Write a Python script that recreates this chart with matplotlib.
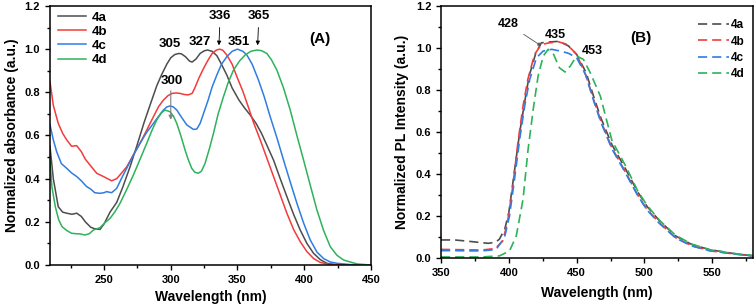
import matplotlib
matplotlib.use('Agg')
import matplotlib.pyplot as plt
from matplotlib.ticker import MultipleLocator

plt.rcParams['font.family'] = ['Liberation Sans', 'DejaVu Sans']
plt.rcParams['font.weight'] = 'bold'

# ---- data: (A) absorbance ----
abs_4a_x = [209.5, 212, 215.7, 219, 222, 226, 229.5, 233, 236, 240, 243, 247, 250, 254.5, 259.5,
            264, 269.5, 275, 280, 285, 289.5, 293, 297, 300, 303, 306, 308, 311, 314, 316,
            319, 322, 325, 327.5, 331, 334.5, 338, 342, 346, 351, 355, 359.5, 364, 368, 372,
            377, 382, 387, 392, 397, 402, 407, 412, 417, 422, 430, 440, 450]
abs_4a_y = [0.55, 0.40, 0.27, 0.245, 0.24, 0.235, 0.24, 0.225, 0.20, 0.175, 0.168, 0.165, 0.19, 0.245, 0.29,
            0.36, 0.455, 0.56, 0.66, 0.75, 0.83, 0.88, 0.93, 0.96, 0.975, 0.98, 0.978, 0.965, 0.945, 0.94,
            0.955, 0.98, 0.992, 0.996, 0.99, 0.97, 0.93, 0.88, 0.82, 0.765, 0.73, 0.695, 0.655, 0.61, 0.555,
            0.486, 0.40, 0.317, 0.235, 0.162, 0.10, 0.054, 0.025, 0.008, 0.003, 0.0, 0.0, 0.0]

abs_4b_x = [209.5, 212, 215.7, 219, 222, 225.7, 229.5, 233, 236, 239.5, 244.5, 249.5, 255.7, 259.5,
            263, 267, 272, 277, 282, 287, 291, 294.5, 298, 301, 304, 307, 310, 313, 316, 318,
            321, 324.5, 328, 331, 334, 336.5, 339, 342, 346, 349.5, 354, 358, 362, 367, 372,
            377, 382, 387, 392, 397, 402, 407, 412, 417, 425, 435, 450]
abs_4b_y = [0.85, 0.74, 0.656, 0.61, 0.58, 0.55, 0.553, 0.525, 0.49, 0.463, 0.425, 0.41, 0.39, 0.40,
            0.425, 0.455, 0.51, 0.564, 0.625, 0.687, 0.735, 0.764, 0.785, 0.795, 0.797, 0.795, 0.79, 0.788, 0.795, 0.82,
            0.865, 0.91, 0.95, 0.98, 0.995, 1.0, 0.995, 0.973, 0.93, 0.873, 0.805, 0.734, 0.66, 0.58, 0.495,
            0.41, 0.325, 0.24, 0.165, 0.108, 0.062, 0.03, 0.012, 0.005, 0.0, 0.0, 0.0]

abs_4c_x = [209.5, 212, 214.5, 218, 222, 226, 229.5, 233, 237, 240, 243, 247, 250, 252, 254, 255.7, 259.5,
            263, 267, 272, 277, 282, 287, 291, 294.5, 297, 299.5, 302, 304.5, 308, 312, 317,
            319.5, 322, 325, 328, 331, 334.5, 338, 342, 346, 350, 354, 357, 361, 365.7, 370,
            374.5, 379.5, 384.5, 389.5, 394.5, 399.5, 404.5, 409.5, 414.5, 419.5, 424.5, 434.5, 450]
abs_4c_y = [0.65, 0.58, 0.525, 0.47, 0.448, 0.425, 0.41, 0.39, 0.363, 0.352, 0.335, 0.332, 0.335, 0.34, 0.337, 0.335, 0.355,
            0.40, 0.448, 0.51, 0.564, 0.615, 0.656, 0.69, 0.718, 0.732, 0.737, 0.732, 0.718, 0.685, 0.649, 0.628,
            0.63, 0.656, 0.71, 0.764, 0.825, 0.88, 0.93, 0.965, 0.99, 1.0, 0.99, 0.973, 0.93, 0.857, 0.78,
            0.687, 0.59, 0.486, 0.385, 0.286, 0.195, 0.116, 0.06, 0.03, 0.014, 0.008, 0.002, 0.0]

abs_4d_x = [209.5, 211, 213.5, 216, 218.5, 222, 225.7, 229, 232, 235.7, 239, 242, 247, 250.5, 254.5,
            258, 262, 267, 272, 277, 282, 286, 289.5, 293, 295.7, 299.5, 302, 304.5, 307.5, 310.7, 313,
            315.7, 318, 320.7, 323, 325.7, 329, 332, 335.5, 339.5, 343, 347, 351.5, 355.7, 360, 364.5,
            368, 372, 375.5, 379.5, 384.5, 389.5, 394.5, 399.5, 404.5, 409.5, 414.5, 419.5, 424.5, 429.5, 439.5, 450]
abs_4d_y = [0.486, 0.36, 0.27, 0.21, 0.178, 0.16, 0.147, 0.145, 0.144, 0.139, 0.145, 0.162, 0.173, 0.195, 0.216,
            0.245, 0.286, 0.35, 0.417, 0.49, 0.564, 0.625, 0.672, 0.705, 0.718, 0.71, 0.69, 0.656, 0.60, 0.533, 0.49,
            0.448, 0.43, 0.425, 0.435, 0.471, 0.54, 0.61, 0.70, 0.78, 0.845, 0.903, 0.945, 0.973, 0.99, 0.996,
            0.993, 0.98, 0.95, 0.903, 0.82, 0.718, 0.60, 0.486, 0.37, 0.255, 0.16, 0.085, 0.045, 0.023, 0.005, 0.0]

# ---- data: (B) photoluminescence ----
pl_4a_x = [350, 360, 370, 380, 385, 390, 393, 397, 400, 404, 408, 412, 415, 420, 424, 430, 437,
           444, 450, 457, 463, 468, 476, 486, 495, 502, 511, 523, 535, 548, 565, 580]
pl_4a_y = [0.086, 0.086, 0.08, 0.073, 0.07, 0.075, 0.089, 0.137, 0.216, 0.406, 0.597, 0.755, 0.867, 0.978, 1.025, 1.029, 1.032,
           1.01, 0.97, 0.883, 0.76, 0.665, 0.54, 0.425, 0.315, 0.245, 0.178, 0.105, 0.064, 0.04, 0.022, 0.01]
pl_4b_x = [350, 360, 370, 380, 390, 395.5, 399, 403, 406.7, 410.5, 414, 419, 424, 430, 436.5,
           443, 450, 457, 463, 468, 476, 486, 495, 502, 511, 523, 535, 548, 565, 580]
pl_4b_y = [0.041, 0.04, 0.039, 0.038, 0.045, 0.081, 0.168, 0.343, 0.549, 0.724, 0.85, 0.97, 1.017, 1.025, 1.03,
           1.017, 0.97, 0.867, 0.745, 0.65, 0.525, 0.41, 0.30, 0.23, 0.168, 0.097, 0.058, 0.035, 0.02, 0.01]
pl_4c_x = [350, 360, 370, 380, 390.5, 396.8, 400.5, 404.2, 408, 411.7, 415.4, 420.4, 425.4, 431.6, 437.8,
           444, 450, 456.5, 463, 468, 476, 486, 495, 502, 511, 523, 535, 548, 565, 580]
pl_4c_y = [0.035, 0.035, 0.034, 0.034, 0.04, 0.097, 0.2, 0.375, 0.565, 0.724, 0.85, 0.954, 0.986, 0.994, 0.986,
           0.975, 0.954, 0.875, 0.74, 0.645, 0.52, 0.405, 0.298, 0.228, 0.165, 0.095, 0.057, 0.035, 0.02, 0.01]
pl_4d_x = [350, 360, 370, 380, 393, 400.5, 405.5, 410.5, 414.2, 418, 421.6, 425.4, 429, 433, 437.3, 441.5,
           445.3, 450, 455, 460, 467.5, 476, 486, 495, 502, 511, 523, 535, 548, 565, 580]
pl_4d_y = [0.005, 0.005, 0.005, 0.005, 0.01, 0.033, 0.105, 0.28, 0.517, 0.708, 0.867, 0.962, 0.994, 0.97, 0.906, 0.886,
           0.914, 0.962, 0.946, 0.883, 0.771, 0.56, 0.44, 0.32, 0.25, 0.18, 0.108, 0.066, 0.04, 0.022, 0.012]

labels = ['4a', '4b', '4c', '4d']
colors = ['#4d4d4d', '#f23b3b', '#2f7de1', '#2eb25a']

fig = plt.figure(figsize=(7.56, 3.08), dpi=100)
axA = fig.add_axes([0.0661, 0.1396, 0.4246, 0.841])
axB = fig.add_axes([0.5833, 0.1623, 0.4127, 0.818])

for ax in (axA, axB):
    ax.tick_params(which='both', direction='out', top=False, right=False, labelsize=8, width=1)
    ax.tick_params(which='major', length=3.5)
    ax.tick_params(which='minor', length=2)
    for s in ax.spines.values():
        s.set_linewidth(1.1)
    ax.set_ylim(0, 1.2)
    ax.yaxis.set_major_locator(MultipleLocator(0.2))
    ax.yaxis.set_minor_locator(MultipleLocator(0.1))
    ax.yaxis.set_major_formatter(matplotlib.ticker.FormatStrFormatter('%.1f'))

# panel A
for xs, ys, lab, c in zip([abs_4a_x, abs_4b_x, abs_4c_x, abs_4d_x],
                          [abs_4a_y, abs_4b_y, abs_4c_y, abs_4d_y], labels, colors):
    axA.plot(xs, ys, color=c, lw=1.1, label=lab)
axA.set_xlim(209.5, 450)
axA.xaxis.set_major_locator(MultipleLocator(50))
axA.xaxis.set_minor_locator(MultipleLocator(25))
axA.set_xlabel('Wavelength (nm)', fontsize=10, fontweight='bold', labelpad=4)
axA.set_ylabel('Normalized absorbance (a.u.)', fontsize=10, fontweight='bold', labelpad=4)
axA.legend(loc='upper left', frameon=False, fontsize=9.5, handlelength=2.1, handletextpad=0.5,
           labelspacing=0.15, borderaxespad=0.2, bbox_to_anchor=(0.0, 1.01))

arrow_k = dict(arrowstyle='-|>', color='black', lw=0.6, mutation_scale=6)
axA.text(299.5, 1.01, '305', ha='center', fontsize=9.5, fontweight='bold')
axA.text(322, 1.02, '327', ha='center', fontsize=9.5, fontweight='bold')
axA.text(351, 1.02, '351', ha='center', fontsize=9.5, fontweight='bold')
axA.annotate('336', xy=(336, 1.005), xytext=(337, 1.14), ha='center', fontsize=9.5, fontweight='bold',
             arrowprops=arrow_k)
axA.annotate('365', xy=(365, 1.005), xytext=(366, 1.14), ha='center', fontsize=9.5, fontweight='bold',
             arrowprops=arrow_k)
axA.annotate('', xy=(300, 0.66), xytext=(300, 0.82),
             arrowprops=dict(arrowstyle='-|>', color='#808080', lw=0.8, mutation_scale=6))
axA.text(301, 0.84, '300', ha='center', fontsize=9.5, fontweight='bold')
axA.text(412, 1.03, '(A)', ha='center', fontsize=11, fontweight='bold')

# panel B
for xs, ys, lab, c in zip([pl_4a_x, pl_4b_x, pl_4c_x, pl_4d_x],
                          [pl_4a_y, pl_4b_y, pl_4c_y, pl_4d_y], labels, colors):
    axB.plot(xs, ys, color=c, lw=1.2, ls=(0, (5.5, 3)), label=lab)
axB.set_xlim(350, 580)
axB.xaxis.set_major_locator(MultipleLocator(50))
axB.xaxis.set_minor_locator(MultipleLocator(25))
axB.set_xlabel('Wavelength (nm)', fontsize=10, fontweight='bold', labelpad=6)
axB.set_ylabel('Normalized PL Intensity (a.u.)', fontsize=10, fontweight='bold', labelpad=5)
axB.legend(loc='upper right', frameon=False, fontsize=8.5, handlelength=2.6, handletextpad=0.2,
           labelspacing=0.35, borderaxespad=0.3, bbox_to_anchor=(1.0, 0.98))

axB.annotate('428', xy=(424, 1.01), xytext=(399.5, 1.1), ha='center', fontsize=9, fontweight='bold',
             arrowprops=dict(arrowstyle='-|>', color='#555555', lw=0.6, mutation_scale=5,
                             shrinkA=2, shrinkB=0))
axB.text(434.5, 1.05, '435', ha='center', fontsize=9, fontweight='bold')
axB.text(461.5, 0.97, '453', ha='center', fontsize=9, fontweight='bold')
axB.text(497, 1.03, '(B)', ha='center', fontsize=11, fontweight='bold')

fig.savefig('out.png', dpi=100)
